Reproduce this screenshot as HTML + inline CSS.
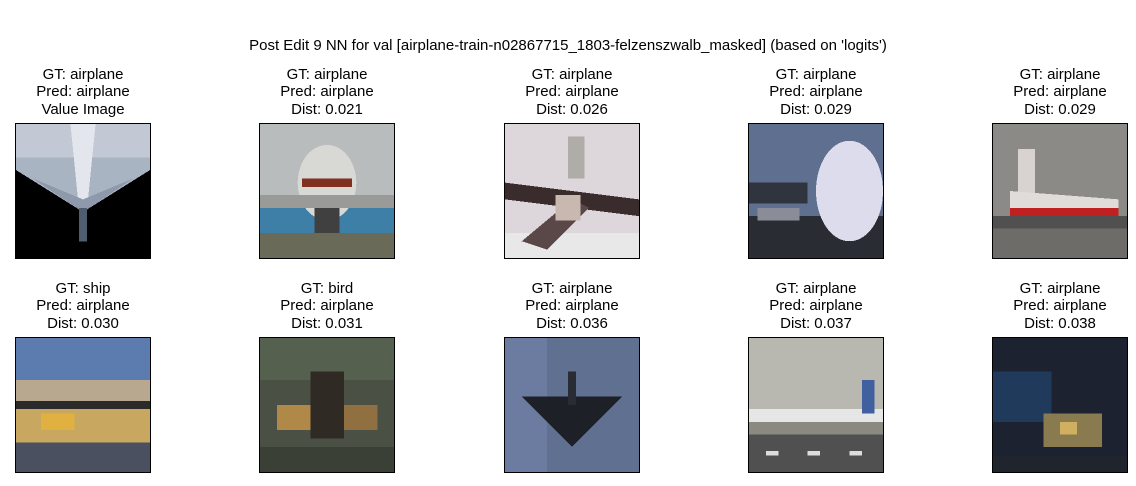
<!DOCTYPE html>
<html><head><meta charset="utf-8"><style>
body{margin:0;width:1136px;height:486px;background:#fff;font-family:"Liberation Sans","DejaVu Sans",sans-serif;position:relative;overflow:hidden}
.sup{position:absolute;top:37px;left:0;width:1136px;text-align:center;font-size:15px;color:#000}
.cell{position:absolute;width:136px}
.t{position:absolute;width:240px;left:-52px;text-align:center;font-size:15px;line-height:17.3px;color:#000}
.img{position:absolute;left:0;width:134px;height:134px;border:1px solid #000;overflow:hidden}
.img svg{display:block;width:134px;height:134px}
</style></head><body>
<div class="sup">Post Edit 9 NN for val [airplane-train-n02867715_1803-felzenszwalb_masked] (based on 'logits')</div>

<div class="cell" style="left:15px;top:0">
<div class="t" style="top:66px">GT: airplane<br>Pred: airplane<br>Value Image</div>
<div class="img" style="top:123px"><svg viewBox="0 0 32 32" preserveAspectRatio="none" shape-rendering="crispEdges">
<rect width="32" height="32" fill="#a9b4c2"/><rect width="32" height="8" fill="#c2c9d4"/>
<polygon points="0,11 16,21 32,11 32,32 0,32" fill="#000"/><polygon points="13,0 19,0 17,20 15,20" fill="#e3e6ec"/><polygon points="4,13 16,18 28,13 16,21" fill="#8e9aac"/><rect x="15" y="20" width="2" height="8" fill="#4e5d70"/></svg></div></div>

<div class="cell" style="left:259px;top:0">
<div class="t" style="top:66px">GT: airplane<br>Pred: airplane<br>Dist: 0.021</div>
<div class="img" style="top:123px"><svg viewBox="0 0 32 32" preserveAspectRatio="none" shape-rendering="crispEdges">
<rect width="32" height="32" fill="#b8bcbc"/><rect y="20" width="32" height="6" fill="#3e7fa8"/><rect y="26" width="32" height="6" fill="#6a6a58"/>
<ellipse cx="16" cy="14" rx="7" ry="9" fill="#d8d8d4"/><rect x="10" y="13" width="12" height="2" fill="#803020"/><rect x="0" y="17" width="32" height="3" fill="#9a9a98"/><rect x="13" y="20" width="6" height="6" fill="#404040"/></svg></div></div>

<div class="cell" style="left:504px;top:0">
<div class="t" style="top:66px">GT: airplane<br>Pred: airplane<br>Dist: 0.026</div>
<div class="img" style="top:123px"><svg viewBox="0 0 32 32" preserveAspectRatio="none" shape-rendering="crispEdges">
<rect width="32" height="32" fill="#ddd6da"/><rect y="26" width="32" height="6" fill="#e8e8e8"/>
<polygon points="0,14 32,18 32,22 0,18" fill="#3a2c2c"/><polygon points="4,28 16,18 20,20 10,30" fill="#5a4848"/><rect x="15" y="3" width="4" height="10" fill="#b0aca8"/><rect x="12" y="17" width="6" height="6" fill="#c8b8b0"/></svg></div></div>

<div class="cell" style="left:748px;top:0">
<div class="t" style="top:66px">GT: airplane<br>Pred: airplane<br>Dist: 0.029</div>
<div class="img" style="top:123px"><svg viewBox="0 0 32 32" preserveAspectRatio="none" shape-rendering="crispEdges">
<rect width="32" height="32" fill="#5e6f90"/><rect y="22" width="32" height="10" fill="#2a2c34"/>
<ellipse cx="24" cy="16" rx="8" ry="12" fill="#dcdcec"/><rect x="0" y="14" width="14" height="5" fill="#30343e"/><rect x="2" y="20" width="10" height="3" fill="#8a8c98"/></svg></div></div>

<div class="cell" style="left:992px;top:0">
<div class="t" style="top:66px">GT: airplane<br>Pred: airplane<br>Dist: 0.029</div>
<div class="img" style="top:123px"><svg viewBox="0 0 32 32" preserveAspectRatio="none" shape-rendering="crispEdges">
<rect width="32" height="32" fill="#8c8a86"/><rect y="24" width="32" height="8" fill="#6e6c68"/>
<rect x="6" y="6" width="4" height="14" fill="#d8d2d0"/><polygon points="4,16 30,18 30,22 4,22" fill="#e0dcda"/><rect x="4" y="20" width="26" height="3" fill="#c02020"/><rect x="0" y="22" width="32" height="3" fill="#505050"/></svg></div></div>

<div class="cell" style="left:15px;top:0">
<div class="t" style="top:280px">GT: ship<br>Pred: airplane<br>Dist: 0.030</div>
<div class="img" style="top:337px"><svg viewBox="0 0 32 32" preserveAspectRatio="none" shape-rendering="crispEdges">
<rect width="32" height="32" fill="#6a7898"/><rect y="0" width="32" height="10" fill="#5c7cb0"/><rect y="10" width="32" height="6" fill="#b8a890"/>
<rect y="15" width="32" height="2" fill="#2a2a2a"/><rect y="17" width="32" height="8" fill="#c8a860"/><rect y="25" width="32" height="7" fill="#4a5060"/><rect x="6" y="18" width="8" height="4" fill="#e0b040"/></svg></div></div>

<div class="cell" style="left:259px;top:0">
<div class="t" style="top:280px">GT: bird<br>Pred: airplane<br>Dist: 0.031</div>
<div class="img" style="top:337px"><svg viewBox="0 0 32 32" preserveAspectRatio="none" shape-rendering="crispEdges">
<rect width="32" height="32" fill="#4a5044"/><rect y="0" width="32" height="10" fill="#56604e"/>
<rect x="12" y="8" width="8" height="16" fill="#302a24"/><rect x="4" y="16" width="8" height="6" fill="#b08848"/><rect x="20" y="16" width="8" height="6" fill="#907040"/><rect y="26" width="32" height="6" fill="#3a4036"/></svg></div></div>

<div class="cell" style="left:504px;top:0">
<div class="t" style="top:280px">GT: airplane<br>Pred: airplane<br>Dist: 0.036</div>
<div class="img" style="top:337px"><svg viewBox="0 0 32 32" preserveAspectRatio="none" shape-rendering="crispEdges">
<rect width="32" height="32" fill="#607090"/><rect x="0" y="0" width="10" height="32" fill="#6c7ca0"/>
<polygon points="4,14 28,14 16,26" fill="#1e2028"/><rect x="15" y="8" width="2" height="8" fill="#2a2c34"/></svg></div></div>

<div class="cell" style="left:748px;top:0">
<div class="t" style="top:280px">GT: airplane<br>Pred: airplane<br>Dist: 0.037</div>
<div class="img" style="top:337px"><svg viewBox="0 0 32 32" preserveAspectRatio="none" shape-rendering="crispEdges">
<rect width="32" height="32" fill="#b8b8b0"/><rect y="17" width="32" height="3" fill="#e6e6e6"/><rect y="20" width="32" height="3" fill="#8a8a80"/><rect y="23" width="32" height="9" fill="#505050"/>
<rect x="27" y="10" width="3" height="8" fill="#4060a0"/><rect x="4" y="27" width="3" height="1" fill="#ddd"/><rect x="14" y="27" width="3" height="1" fill="#ddd"/><rect x="24" y="27" width="3" height="1" fill="#ddd"/></svg></div></div>

<div class="cell" style="left:992px;top:0">
<div class="t" style="top:280px">GT: airplane<br>Pred: airplane<br>Dist: 0.038</div>
<div class="img" style="top:337px"><svg viewBox="0 0 32 32" preserveAspectRatio="none" shape-rendering="crispEdges">
<rect width="32" height="32" fill="#1c2230"/><rect x="0" y="8" width="14" height="12" fill="#203a5c"/>
<rect x="12" y="18" width="14" height="8" fill="#8a7a50"/><rect x="16" y="20" width="4" height="3" fill="#d0b060"/><rect y="28" width="32" height="4" fill="#20242c"/></svg></div></div>
</body></html>
